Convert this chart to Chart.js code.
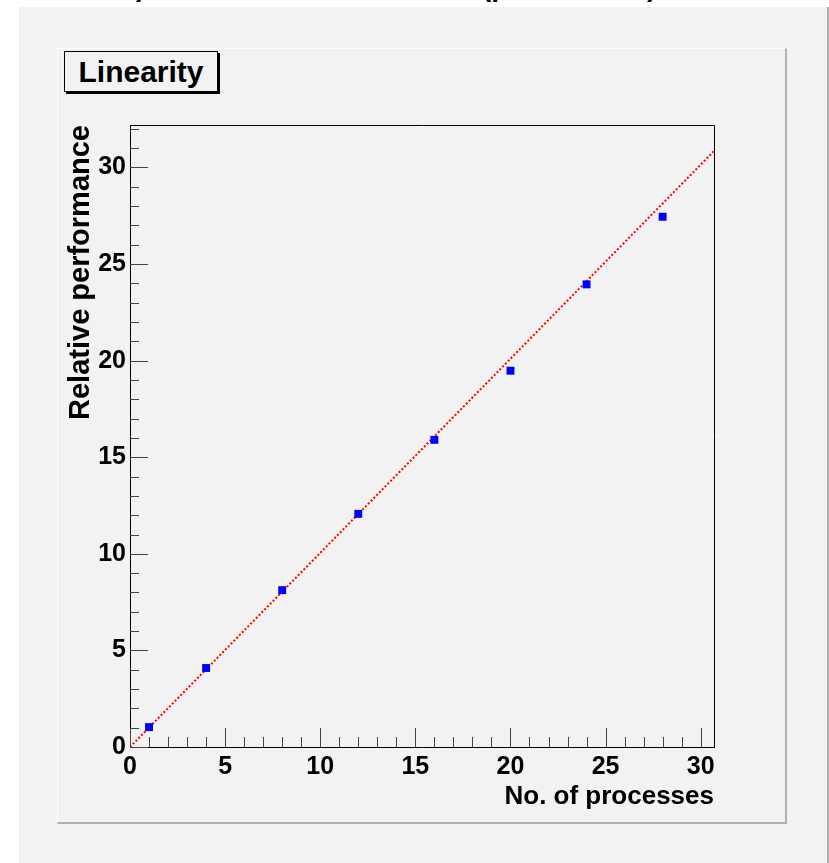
<!DOCTYPE html>
<html>
<head>
<meta charset="utf-8">
<script src="https://cdn.jsdelivr.net/npm/chart.js@4.4.1/dist/chart.umd.min.js"></script>
<style>
  html, body { margin: 0; padding: 0; background: #ffffff; overflow: hidden; }
  body { width: 829px; height: 863px; position: relative; font-family: "Liberation Sans", Arial, sans-serif; }
  #outer { position: absolute; left: 19px; top: 7px; width: 808px; height: 860px; background: #f2f2f2; border-right: 2px solid #b0b0b0; }
  #pad { position: absolute; left: 57px; top: 48px; width: 727px; height: 773px; background: #f2f2f2;
         border-left: 1px solid #ffffff; border-top: 1px solid #ffffff; border-right: 2px solid #b0b0b0; border-bottom: 2px solid #b0b0b0; }
  #legend { position: absolute; left: 64px; top: 51px; width: 152px; height: 39px; border: 1px solid #000; box-shadow: 2px 2px 0 #000;
            font-weight: bold; font-size: 30px; line-height: 39px; text-align: center; color: #000; }
  .frag { position: absolute; top: -27px; font-weight: bold; font-size: 28px; line-height: 28px; color: #000; }
  #chart { position: absolute; left: 0; top: 0; }
</style>
</head>
<body>
<div id="outer"></div>
<div id="pad"></div>
<span class="frag" style="left:136px">)</span>
<span class="frag" style="left:482px">(p</span>
<span class="frag" style="left:647px">)</span>
<div id="legend">Linearity</div>
<canvas id="chart" width="829" height="863"></canvas>
<script>
// measured points
const processes = [1, 4, 8, 12, 16, 20, 24, 28];
const performance = [1.03, 4.09, 8.12, 12.07, 15.9, 19.48, 23.95, 27.45];

// linear fit drawn across the frame
const fitX = [0, 30.7];
const fitY = [0, 30.85];

const xMax = 30.7;
const yMax = 32.2;

// ROOT style ticks: drawn inward, major every 5, minor every 1
const tickMarks = {
    id: 'tickMarks',
    afterDraw(chart) {
        const {ctx, chartArea: a, scales: {x, y}} = chart;
        ctx.save();
        ctx.strokeStyle = '#000';
        ctx.lineWidth = 1;
        ctx.beginPath();
        // top and right frame
        ctx.moveTo(a.left, a.top + 0.5);
        ctx.lineTo(a.right + 0.5, a.top + 0.5);
        ctx.lineTo(a.right + 0.5, a.bottom);
        ctx.stroke();
        ctx.strokeStyle = '#444';
        ctx.beginPath();
        for (let v = 0; v <= 30; v++) {
            const px = Math.round(x.getPixelForValue(v)) + 0.5;
            const len = v % 5 === 0 ? 19 : 10;
            ctx.moveTo(px, a.bottom);
            ctx.lineTo(px, a.bottom - len);
        }
        for (let v = 0; v <= 32; v++) {
            const py = Math.round(y.getPixelForValue(v)) + 0.5;
            const len = v % 5 === 0 ? 18 : 9;
            ctx.moveTo(a.left, py);
            ctx.lineTo(a.left + len, py);
        }
        ctx.stroke();
        ctx.restore();
    }
};

const ctx = document.getElementById('chart').getContext('2d');
new Chart(ctx, {
    type: 'scatter',
    data: {
        datasets: [{
            label: 'Linearity',
            data: processes.map((p, i) => ({x: p, y: performance[i]})),
            pointStyle: 'rect',
            pointRadius: 5.6,
            pointBackgroundColor: '#0000ff',
            pointBorderWidth: 0,
            showLine: false
        }, {
            label: 'fit',
            data: fitX.map((v, i) => ({x: v, y: fitY[i]})),
            showLine: true,
            borderColor: '#ff0000',
            borderWidth: 2,
            borderDash: [2, 2],
            pointRadius: 0
        }]
    },
    options: {
        responsive: false,
        animation: false,
        layout: {padding: {left: 57, top: 125, right: 115, bottom: 51}},
        plugins: {legend: {display: false}, tooltip: {enabled: false}},
        scales: {
            x: {
                type: 'linear',
                min: 0,
                max: xMax,
                afterFit(scale) { scale.height = 65; },
                grid: {display: false, drawTicks: false},
                border: {display: true, color: '#000', width: 1},
                ticks: {
                    stepSize: 5,
                    includeBounds: false,
                    padding: 5,
                    color: '#000',
                    maxRotation: 0,
                    autoSkip: false,
                    font: {family: '"Liberation Sans", Arial, sans-serif', size: 25, weight: 'bold'}
                },
                title: {
                    display: true,
                    text: 'No. of processes',
                    align: 'end',
                    color: '#000',
                    padding: {top: 0, bottom: 0},
                    font: {family: '"Liberation Sans", Arial, sans-serif', size: 26, weight: 'bold'}
                }
            },
            y: {
                type: 'linear',
                min: 0,
                max: yMax,
                afterFit(scale) { scale.width = 73; },
                grid: {display: false, drawTicks: false},
                border: {display: true, color: '#000', width: 1},
                ticks: {
                    stepSize: 5,
                    includeBounds: false,
                    padding: 4,
                    color: '#000',
                    font: {family: '"Liberation Sans", Arial, sans-serif', size: 25, weight: 'bold'}
                },
                title: {
                    display: true,
                    text: 'Relative performance',
                    align: 'end',
                    color: '#000',
                    padding: {top: 7, bottom: 0},
                    font: {family: '"Liberation Sans", Arial, sans-serif', size: 29, weight: 'bold'}
                }
            }
        }
    },
    plugins: [tickMarks]
});
</script>
</body>
</html>
